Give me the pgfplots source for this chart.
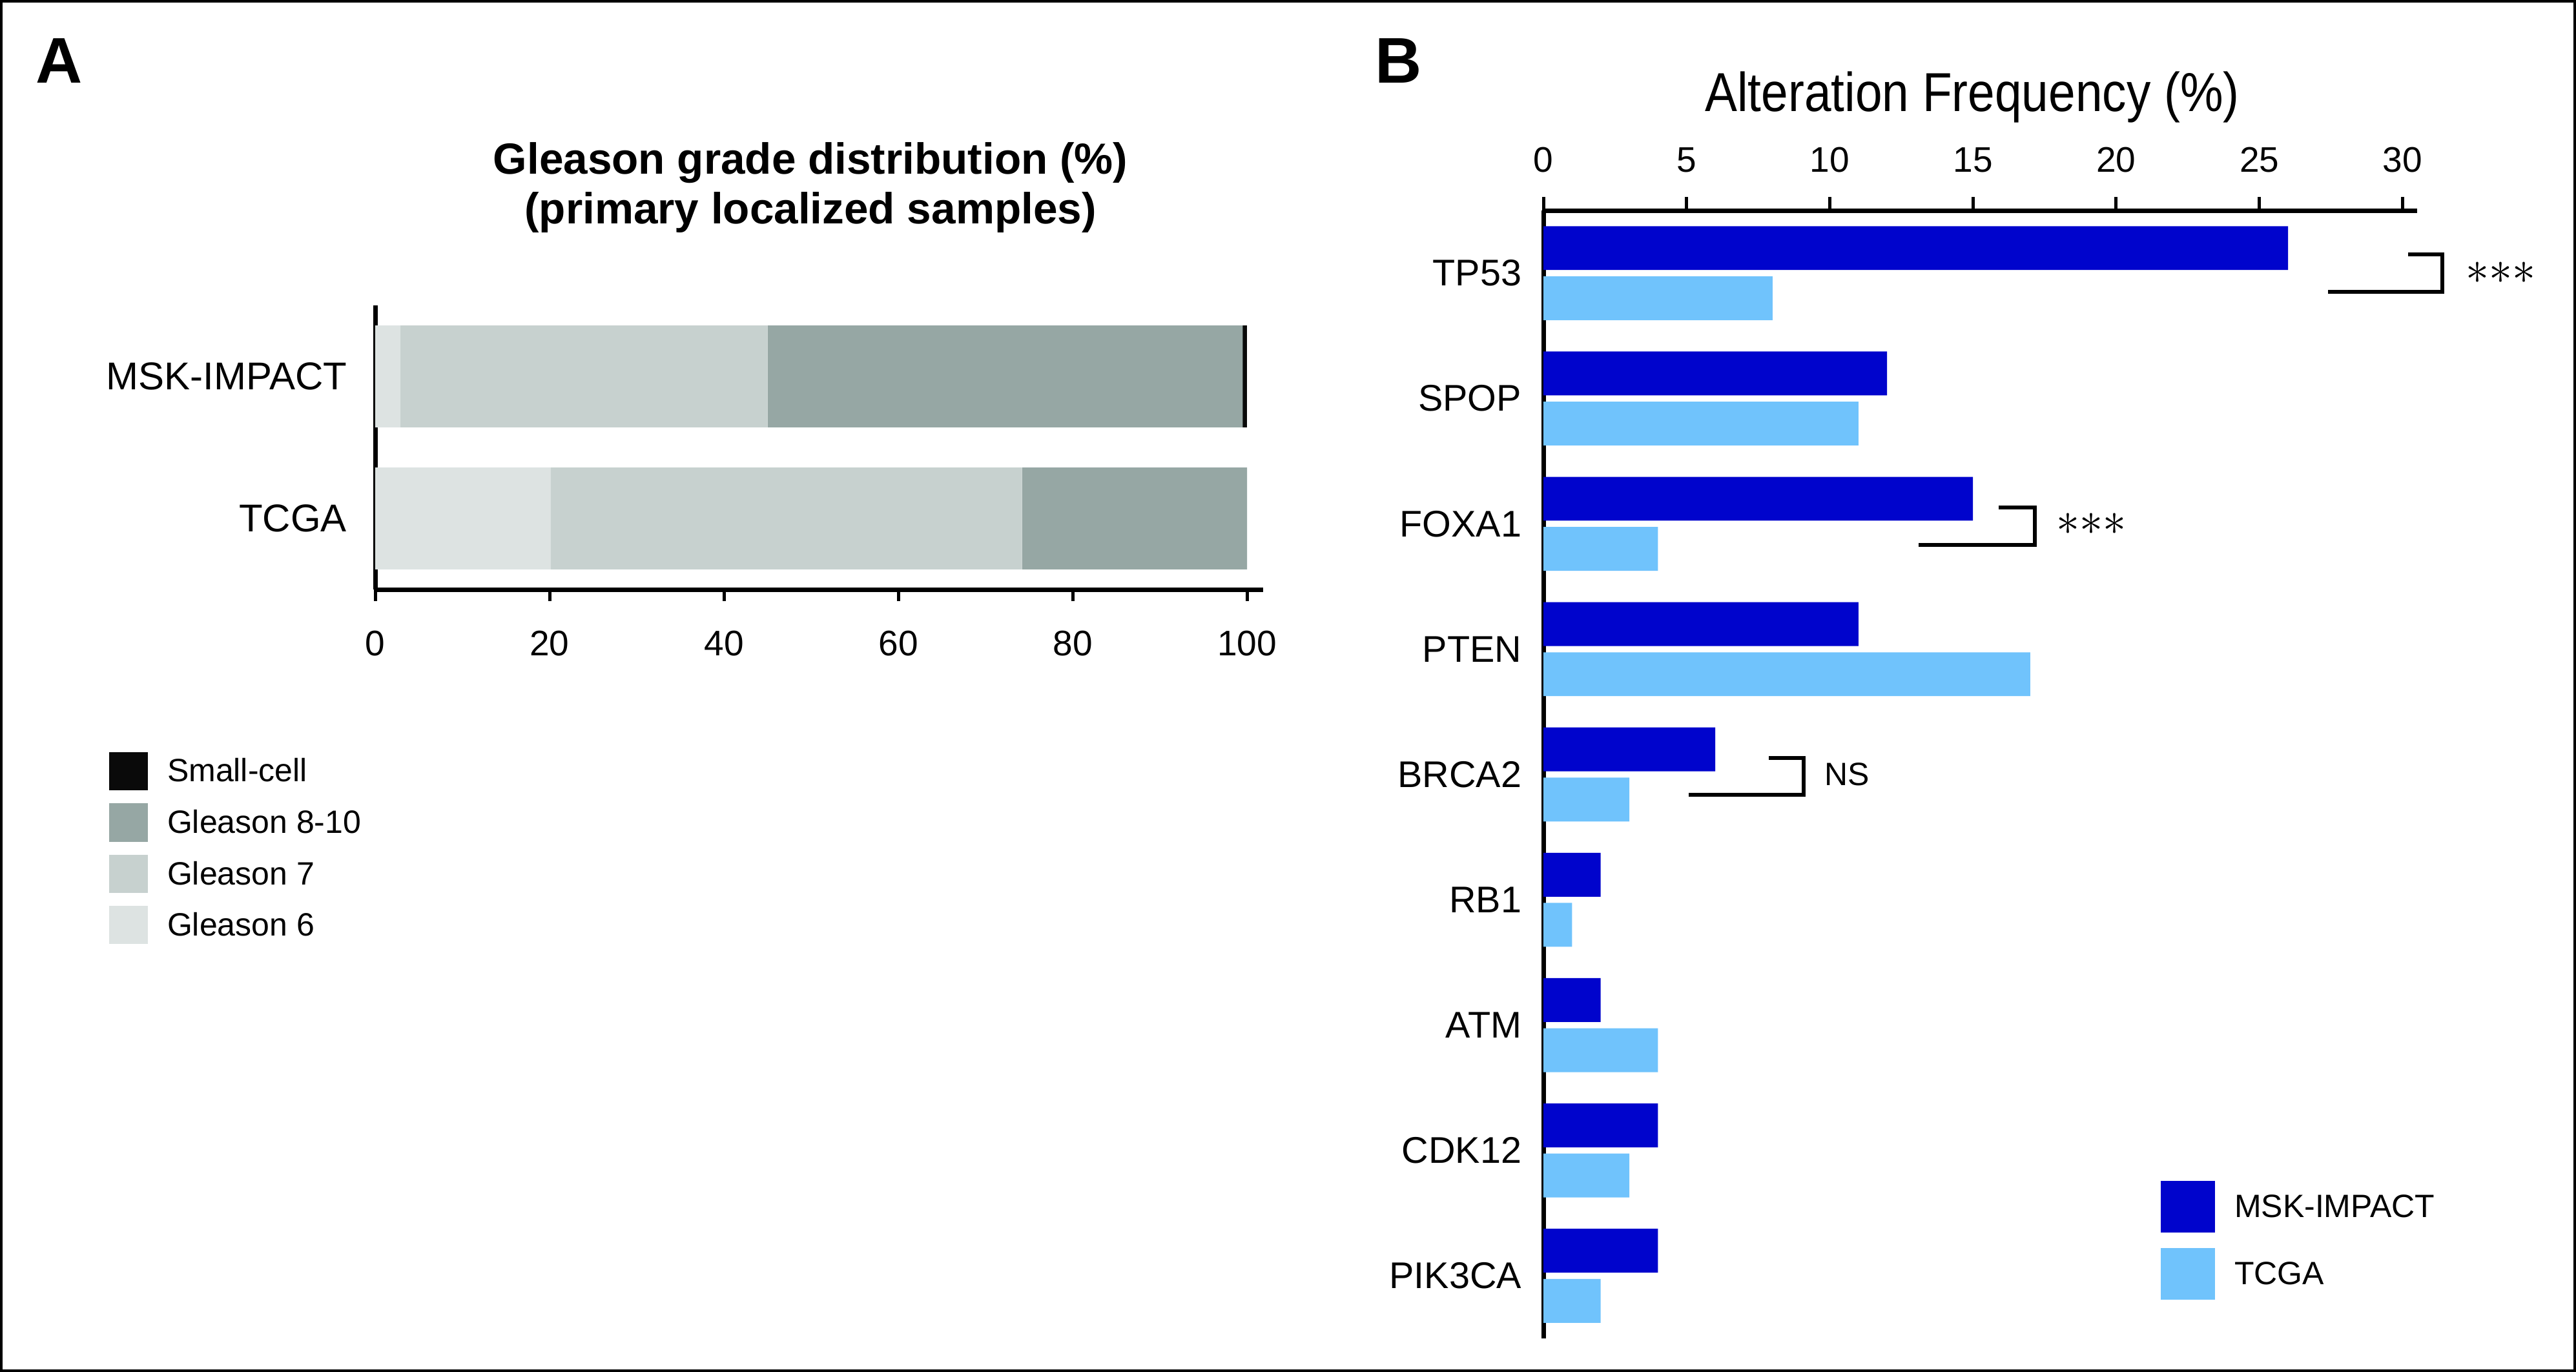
\documentclass[border=0pt]{standalone}
\usepackage{fontspec}
\setmainfont{Liberation Sans}
\newfontfamily\condfont[FakeStretch=0.88]{Liberation Sans}
\usepackage{pgfplots}
\pgfplotsset{compat=1.18}

\definecolor{gsix}{RGB}{221,227,226}
\definecolor{gseven}{RGB}{199,209,207}
\definecolor{geight}{RGB}{150,167,164}
\definecolor{smallcell}{RGB}{10,10,10}
\definecolor{msk}{RGB}{0,4,204}
\definecolor{tcga}{RGB}{112,195,252}

\begin{document}
\begin{tikzpicture}
% outer frame
\draw[line width=0.8pt] (0.4pt,-0.4pt) rectangle (797.4pt,-424.6pt);

% panel letters and titles
\node[anchor=base west, inner sep=0pt, font=\bfseries\fontsize{20}{24}\selectfont] at (11pt,-25.8pt) {A};
\node[anchor=base west, inner sep=0pt, font=\bfseries\fontsize{20}{24}\selectfont] at (425.6pt,-25.8pt) {B};
\node[anchor=base, inner sep=0pt, font=\bfseries\fontsize{13.5}{16}\selectfont] at (251pt,-54pt) {Gleason grade distribution (\%)};
\node[anchor=base, inner sep=0pt, font=\bfseries\fontsize{13.5}{16}\selectfont] at (251pt,-69.4pt) {(primary localized samples)};
\node[anchor=base, inner sep=0pt, font=\condfont\fontsize{17}{20}\selectfont] at (610.8pt,-34.5pt) {Alteration Frequency (\%)};

% ---- Panel A: Gleason grade distribution ----
\begin{axis}[
    at={(116.2pt,-182.6pt)}, anchor=south west,
    scale only axis, width=275pt, height=88pt,
    xbar stacked, bar width=0.718,
    xmin=0, xmax=101.85, ymin=-0.5, ymax=1.5,
    enlargelimits=false,
    axis x line=bottom, axis y line=left,
    axis line style={-, line width=1.4pt},
    xtick={0,20,40,60,80,100},
    ytick={0,1}, yticklabels={TCGA,MSK-IMPACT},
    tick align=outside,
    major tick length=3.6pt,
    x tick style={line width=1pt, black},
    y tick style={draw=none},
    /pgf/number format/assume math mode=true,
    xticklabel style={font=\fontsize{11}{13}\selectfont, inner sep=0pt, anchor=north, yshift=-9pt},
    yticklabel style={font=\fontsize{12}{14}\selectfont, inner sep=0pt, anchor=east, xshift=-5pt},
    every axis plot post/.append style={
        legend image code/.code={\fill[##1] (0pt,-2.6pt) rectangle (12pt,9.2pt);}},
    reverse legend,
    legend style={at={(-0.2996,-0.5727)}, anchor=north west, draw=none, fill=none,
        inner sep=0pt, outer sep=0pt, row sep=4.1pt, column sep=6pt,
        font=\fontsize{10}{12}\selectfont, nodes={inner sep=0pt}, cells={anchor=base west}},
]
\addplot[fill=gsix, draw=none] coordinates {(2.9,1) (20.1,0)};
\addlegendentry{Gleason 6}
\addplot[fill=gseven, draw=none] coordinates {(42.1,1) (54.1,0)};
\addlegendentry{Gleason 7}
\addplot[fill=geight, draw=none] coordinates {(54.5,1) (25.8,0)};
\addlegendentry{Gleason 8-10}
\addplot[fill=smallcell, draw=none] coordinates {(0.5,1) (0,0)};
\addlegendentry{Small-cell}
\end{axis}

% ---- Panel B: alteration frequency ----
\begin{axis}[
    at={(478pt,-414.6pt)}, anchor=south west,
    scale only axis, width=270.6pt, height=349.4pt,
    xbar, bar width=0.35,
    xmin=0, xmax=30.51, ymin=-0.5, ymax=8.5,
    enlargelimits=false, clip=false,
    axis x line=top, axis y line=left,
    axis line style={-, line width=1.4pt},
    xtick={0,5,10,15,20,25,30},
    ytick={0,1,2,3,4,5,6,7,8},
    yticklabels={PIK3CA,CDK12,ATM,RB1,BRCA2,PTEN,FOXA1,SPOP,TP53},
    tick align=outside,
    major tick length=4.2pt,
    x tick style={line width=1pt, black},
    y tick style={draw=none},
    /pgf/number format/assume math mode=true,
    xticklabel style={font=\fontsize{11}{13}\selectfont, inner sep=0pt, anchor=south, yshift=7.4pt},
    yticklabel style={font=\fontsize{11.5}{14}\selectfont, inner sep=0pt, anchor=east, xshift=-2.4pt},
    every axis plot post/.append style={
        legend image code/.code={\fill[##1] (0pt,-4.6pt) rectangle (16.8pt,11.4pt);}},
    legend style={at={(0.7066,0.1397)}, anchor=north west, draw=none, fill=none,
        inner sep=0pt, outer sep=0pt, row sep=4.8pt, column sep=6pt,
        font=\fontsize{10}{12}\selectfont, nodes={inner sep=0pt}, cells={anchor=base west}},
]
\addplot[fill=msk, draw=none, bar shift=0.2] coordinates {
    (26,8) (12,7) (15,6) (11,5) (6,4) (2,3) (2,2) (4,1) (4,0)};
\addlegendentry{MSK-IMPACT}
\addplot[fill=tcga, draw=none, bar shift=-0.2] coordinates {
    (8,8) (11,7) (4,6) (17,5) (3,4) (1,3) (4,2) (3,1) (2,0)};
\addlegendentry{TCGA}

% significance brackets
\draw[line width=1.2pt, line join=miter] (axis cs:30.2,8.15) -- (axis cs:31.4,8.15) -- (axis cs:31.4,7.85) -- (axis cs:27.4,7.85);
\node[anchor=west, inner sep=0pt, font=\fontsize{15}{17}\selectfont] at (axis cs:32.2,8) {${\ast}{\ast}{\ast}$};
\draw[line width=1.2pt, line join=miter] (axis cs:15.9,6.13) -- (axis cs:17.15,6.13) -- (axis cs:17.15,5.83) -- (axis cs:13.1,5.83);
\node[anchor=west, inner sep=0pt, font=\fontsize{15}{17}\selectfont] at (axis cs:17.9,6) {${\ast}{\ast}{\ast}$};
\draw[line width=1.2pt, line join=miter] (axis cs:7.87,4.13) -- (axis cs:9.08,4.13) -- (axis cs:9.08,3.84) -- (axis cs:5.08,3.84);
\node[anchor=west, inner sep=0pt, font=\fontsize{10}{12}\selectfont] at (axis cs:9.8,4) {NS};
\end{axis}
\end{tikzpicture}
\end{document}
